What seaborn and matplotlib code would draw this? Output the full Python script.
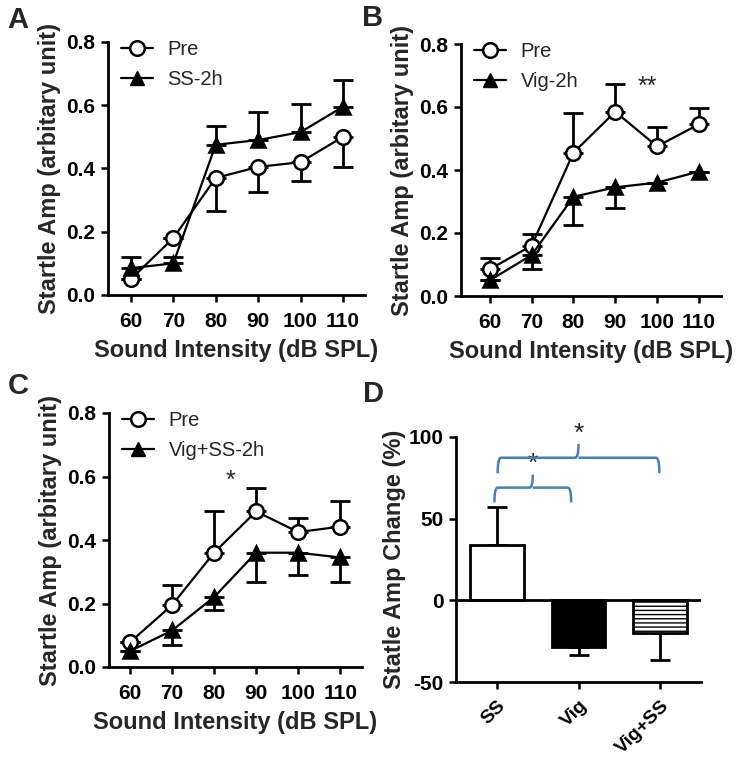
import numpy as np
import pandas as pd
import matplotlib
matplotlib.use("Agg")
import matplotlib.pyplot as plt
import seaborn as sns
from matplotlib.path import Path
from matplotlib.patches import PathPatch
from matplotlib.lines import Line2D

sns.set_style("ticks")
plt.rcParams['font.family'] = ['Liberation Sans', 'DejaVu Sans']
plt.rcParams['hatch.linewidth'] = 1.0

# ---------------- data ----------------
intensity = [60, 70, 80, 90, 100, 110]
xtick_labels = ["60", "70", "80", "90", "100", "110"]

a_pre = [0.05, 0.18, 0.37, 0.405, 0.42, 0.50]
a_pre_err_down = [0.0, 0.0, 0.105, 0.08, 0.06, 0.095]
a_ss = [0.085, 0.10, 0.475, 0.49, 0.515, 0.595]
a_ss_err_up = [0.035, 0.02, 0.06, 0.09, 0.09, 0.085]

b_pre = [0.085, 0.16, 0.455, 0.585, 0.475, 0.545]
b_pre_err_up = [0.035, 0.038, 0.125, 0.088, 0.06, 0.052]
b_vig = [0.05, 0.13, 0.315, 0.345, 0.36, 0.395]
b_vig_err_down = [0.0, 0.045, 0.09, 0.067, 0.0, 0.0]

c_pre = [0.078, 0.195, 0.36, 0.49, 0.425, 0.442]
c_pre_err_up = [0.0, 0.063, 0.132, 0.074, 0.045, 0.08]
c_vig = [0.05, 0.115, 0.22, 0.36, 0.36, 0.345]
c_vig_err_down = [0.0, 0.047, 0.04, 0.092, 0.07, 0.077]

d_groups = ["SS", "Vig", "Vig+SS"]
d_change = [34.0, -28.5, -20.3]
d_err = [23.0, 4.8, 16.4]

# ---------------- figure ----------------
fig = plt.figure(figsize=(7.42, 7.61), dpi=100)
W, H = 742, 761

def px_axes(l, t, r, b):
    return fig.add_axes([l / W, 1 - b / H, (r - l) / W, (b - t) / H])

axA = px_axes(108, 42, 365, 295)
axB = px_axes(461, 44, 721, 296)
axC = px_axes(109, 413, 362, 667)
axD = px_axes(456, 437, 701, 682)

tick_fs = 15
label_fs = 17
legend_fs = 14.5
msize = 10.5

def style_axes(ax):
    for lab in ax.get_xticklabels() + ax.get_yticklabels():
        lab.set_fontweight("bold")
        lab.set_fontsize(tick_fs)
    ax.tick_params(width=1.8, length=5, direction="out", colors="black", pad=4)
    for s in ["top", "right"]:
        ax.spines[s].set_visible(False)
    for s in ["left", "bottom"]:
        ax.spines[s].set_linewidth(2.0)
        ax.spines[s].set_color("black")

def line_panel(ax, pre, pre_err, pre_up, post, post_err, post_up, post_name, xlim):
    df = pd.DataFrame({"x": intensity * 2,
                       "y": pre + post,
                       "grp": ["Pre"] * 6 + [post_name] * 6})
    sns.lineplot(data=df, x="x", y="y", hue="grp", style="grp",
                 markers={"Pre": "o", post_name: "^"}, dashes=False,
                 palette={"Pre": "black", post_name: "black"},
                 markersize=msize, linewidth=1.6, ax=ax, legend=False, zorder=3,
                 markeredgewidth=1.8)
    lines = ax.get_lines()
    lines[0].set_markerfacecolor("white")
    lines[0].set_markeredgecolor("black")
    lines[1].set_markerfacecolor("black")
    lines[1].set_markeredgecolor("black")
    z = [0.0] * 6
    for vals, err, up in [(pre, pre_err, pre_up), (post, post_err, post_up)]:
        yerr = [z, err] if up else [err, z]
        ax.errorbar(intensity, vals, yerr=yerr, fmt="none", ecolor="black",
                    elinewidth=2.0, capsize=7, capthick=2.0, zorder=2)
    ax.set_xlim(*xlim)
    ax.set_ylim(0, 0.8)
    ax.set_xticks(intensity)
    ax.set_xticklabels(xtick_labels)
    ax.set_yticks([0.0, 0.2, 0.4, 0.6, 0.8])
    ax.set_yticklabels(["0.0", "0.2", "0.4", "0.6", "0.8"])
    ax.set_xlabel("Sound Intensity (dB SPL)", fontsize=label_fs, fontweight="bold", labelpad=6)
    ax.set_ylabel("Startle Amp (arbitary unit)", fontsize=label_fs, fontweight="bold", labelpad=4)
    style_axes(ax)
    ax.tick_params(axis="x", pad=7)
    handles = [Line2D([], [], color="black", marker="o", markerfacecolor="white",
                      markersize=msize, markeredgewidth=1.8, linewidth=1.6),
               Line2D([], [], color="black", marker="^", markerfacecolor="black",
                      markersize=msize, linewidth=1.6)]
    ax.legend(handles, ["Pre", post_name], loc="upper left", frameon=False,
              fontsize=legend_fs, handlelength=1.6, handletextpad=0.7,
              borderaxespad=0.0, bbox_to_anchor=(0.02, 1.04), labelspacing=0.55)

line_panel(axA, a_pre, a_pre_err_down, False, a_ss, a_ss_err_up, True, "SS-2h", (54.6, 115.2))
line_panel(axB, b_pre, b_pre_err_up, True, b_vig, b_vig_err_down, False, "Vig-2h", (53.1, 115.3))
line_panel(axC, c_pre, c_pre_err_up, True, c_vig, c_vig_err_down, False, "Vig+SS-2h", (55.0, 115.2))

axB.text(97.6, 0.665, "**", ha="center", va="center", fontsize=18)
axC.text(83.8, 0.585, "*", ha="center", va="center", fontsize=18)

# ---------------- panel D ----------------
dfD = pd.DataFrame({"group": d_groups, "change": d_change})
sns.barplot(data=dfD, x="group", y="change", ax=axD, width=0.66,
            edgecolor="black", linewidth=2.0, errorbar=None,
            palette={"SS": "white", "Vig": "black", "Vig+SS": "white"},
            hue="group", legend=False, zorder=2)
axD.patches[2].set_hatch("----")
pos = np.arange(len(d_groups))
for i, (v, e) in enumerate(zip(d_change, d_err)):
    yerr = [[0], [e]] if v > 0 else [[e], [0]]
    axD.errorbar(pos[i], v, yerr=yerr, fmt="none", ecolor="black",
                 elinewidth=2.0, capsize=7, capthick=2.0, zorder=1)
axD.axhline(0, color="black", linewidth=2.0, zorder=3)
axD.set_xlim(-0.5, 2.5)
axD.set_ylim(-50, 100)
axD.set_yticks([-50, 0, 50, 100])
axD.set_yticklabels(["-50", "0", "50", "100"])
axD.set_xticks(pos)
axD.set_xticklabels(d_groups, rotation=45, ha="right", rotation_mode="anchor")
axD.set_xlabel("")
axD.set_ylabel("Statle Amp Change (%)", fontsize=label_fs, fontweight="bold", labelpad=2)
style_axes(axD)
for lab in axD.get_xticklabels():
    lab.set_fontsize(14)
axD.tick_params(axis="x", pad=6)

brace_color = "#4a7ebb"

def brace(ax, x0, x1, y, drop, rise):
    xm = (x0 + x1) / 2
    c = 0.04
    verts = [(x0, y - drop), (x0, y), (x0 + c, y),
             (xm - c, y), (xm, y), (xm, y + rise),
             (xm, y), (xm + c, y),
             (x1 - c, y), (x1, y), (x1, y - drop)]
    codes = [Path.MOVETO, Path.CURVE3, Path.CURVE3,
             Path.LINETO, Path.CURVE3, Path.CURVE3,
             Path.MOVETO, Path.LINETO,
             Path.LINETO, Path.CURVE3, Path.CURVE3]
    ax.add_patch(PathPatch(Path(verts, codes), fill=False, edgecolor=brace_color,
                           linewidth=1.8, clip_on=False, zorder=4))
    ax.text(xm, y + rise - 1, "*", ha="center", va="bottom", fontsize=19, clip_on=False)

brace(axD, -0.03, 0.91, 69, 9, 8)
brace(axD, 0.01, 1.99, 87.3, 9.5, 8.5)

# panel letters
for letter, (x, y) in {"A": (7, 6), "B": (362, 4), "C": (8, 372), "D": (363, 380)}.items():
    fig.text(x / W, 1 - y / H, letter, fontsize=21, fontweight="bold", ha="left", va="top")

fig.savefig("out.png", dpi=100)
